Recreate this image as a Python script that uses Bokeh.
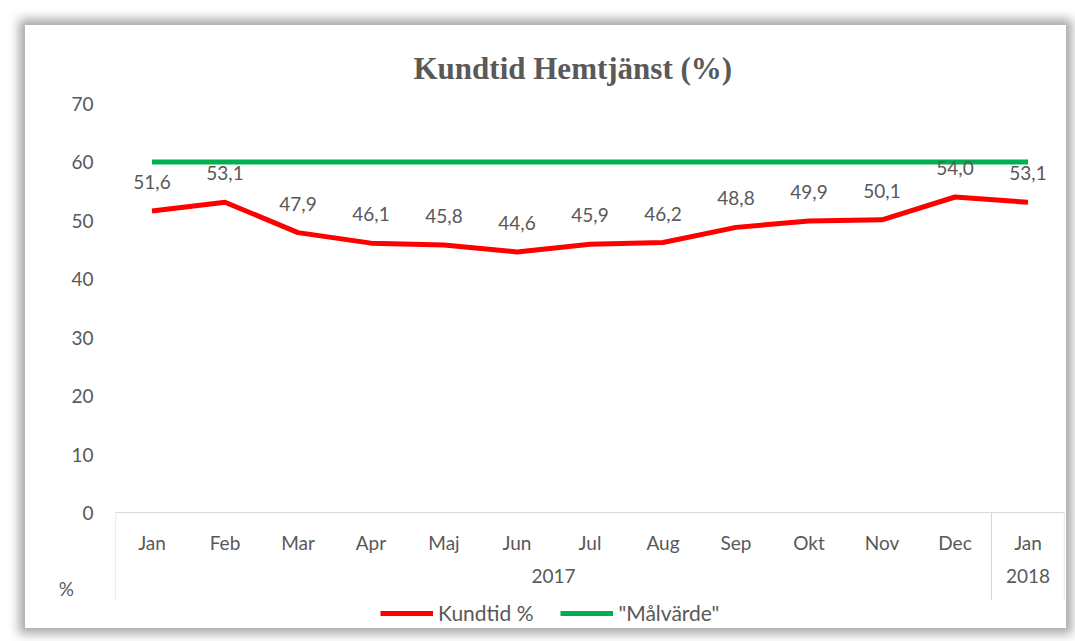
from bokeh.plotting import figure
from bokeh.models import FactorRange, Range1d, FixedTicker, Legend, LegendItem, ColumnDataSource
from bokeh.core.properties import value
from bokeh.embed import file_html
from bokeh.resources import INLINE

# ---- data ----
years = ["2017"] * 12 + ["2018"]
months = ["Jan", "Feb", "Mar", "Apr", "Maj", "Jun", "Jul", "Aug", "Sep", "Okt", "Nov", "Dec", "Jan"]
kundtid = [51.6, 53.1, 47.9, 46.1, 45.8, 44.6, 45.9, 46.2, 48.8, 49.9, 50.1, 54.0, 53.1]
malvarde = [60] * 13
y_ticks = [0, 10, 20, 30, 40, 50, 60, 70]
y_unit = "%"
title_text = "Kundtid Hemtjänst (%)"

factors = list(zip(years, months))
labels = [f"{v:.1f}".replace(".", ",") for v in kundtid]

TXT = "#595959"
FONT = "Lato"
Y_UNIT_POS = -13

x_range = FactorRange(*factors, group_padding=0, factor_padding=0, subgroup_padding=0, range_padding=0)
p = figure(x_range=x_range, y_range=Range1d(-19.85, 70), width=1041, height=603,
           output_backend="svg", toolbar_location=None,
           min_border_left=90, min_border_right=2, min_border_top=78, min_border_bottom=0)
p.styles = {"margin": "25px 0 0 25px", "box-shadow": "0 0 10px 6px #a8a8a8"}
p.outline_line_color = None
p.background_fill_color = "white"
p.border_fill_color = "white"
p.xgrid.visible = False
p.ygrid.visible = False

p.title.text = title_text
p.title.align = "left"
p.title.offset = 298
p.title.text_font = "Liberation Serif"
p.title.text_font_style = "bold"
p.title.text_font_size = "31px"
p.title.text_color = TXT
p.title.standoff = 36

src = ColumnDataSource(dict(x=factors, y=kundtid, m=malvarde, lab=labels))

# axis decoration lines (category box)
n = len(factors)
n17 = years.count("2017")
p.segment(x0=[0, n17, n], y0=[-15, -15, -15], x1=[0, n17, n], y1=[0, 0, 0],
          line_color="#d9d9d9", line_width=1.2)

g = p.line("x", "m", source=src, line_color="#00B050", line_width=5)
r = p.line("x", "y", source=src, line_color="#FF0000", line_width=5, line_join="round")
p.text("x", "y", text="lab", source=src, text_align="center", text_baseline="middle",
       y_offset=-29, text_font=value(FONT), text_font_size="19px", text_color=TXT)

xa = p.xaxis[0]
xa.fixed_location = 0
xa.axis_line_color = "#d9d9d9"
xa.axis_line_width = 1.2
xa.major_tick_line_color = None
xa.minor_tick_line_color = None
xa.major_label_text_font = FONT
xa.major_label_text_font_size = "19px"
xa.major_label_text_color = TXT
xa.major_label_standoff = 12
xa.group_text_font = FONT
xa.group_text_font_size = "19px"
xa.group_text_color = TXT
xa.group_text_font_style = "normal"
xa.separator_line_color = None

ya = p.yaxis[0]
ya.ticker = FixedTicker(ticks=[Y_UNIT_POS] + y_ticks)
ya.major_label_overrides = {Y_UNIT_POS: y_unit + "\u00a0" * 4}
ya.axis_line_color = None
ya.major_tick_line_color = None
ya.minor_tick_line_color = None
ya.major_label_text_font = FONT
ya.major_label_text_font_size = "19px"
ya.major_label_text_color = TXT
ya.major_label_standoff = 16

legend = Legend(items=[LegendItem(label="Kundtid %", renderers=[r]),
                       LegendItem(label='"Målvärde"', renderers=[g])],
                orientation="horizontal", location=(265, 3),
                border_line_color=None, background_fill_alpha=0,
                label_text_font=FONT, label_text_font_size="21px", label_text_color=TXT,
                glyph_width=53, spacing=27, padding=0, margin=0, label_standoff=5)
p.add_layout(legend, "center")

open("out.html", "w").write(file_html(p, INLINE))
